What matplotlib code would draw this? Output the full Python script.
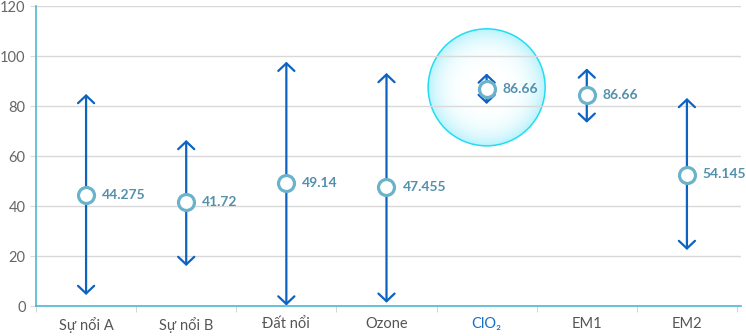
import numpy as np
import matplotlib
matplotlib.use("Agg")
import matplotlib.pyplot as plt
import matplotlib.patches as patches
import matplotlib.transforms as transforms
from matplotlib.colors import to_rgb

plt.rcParams['font.family'] = ['Lato', 'DejaVu Sans']

categories = ["Sự nổi A", "Sự nổi B", "Đất nổi", "Ozone", "ClO₂", "EM1", "EM2"]
point_values = [44.275, 41.72, 49.14, 47.455, 86.66, 84.4, 52.6]
point_labels = ["44.275", "41.72", "49.14", "47.455", "86.66", "86.66", "54.145"]
range_high = [84.8, 66.4, 97.7, 93.2, 93.0, 95.0, 83.2]
range_low = [4.4, 16.0, 0.2, 1.3, 80.8, 73.3, 22.4]
highlight_index = 4
y_ticks = [0, 20, 40, 60, 80, 100, 120]

ARROW_COLOR = "#0c63c2"
MARKER_COLOR = "#6bb3cb"
LABEL_COLOR = "#5390ab"
AXIS_COLOR = "#4db8d2"
GRID_COLOR = "#d9d9d9"
TEXT_COLOR = "#666666"

fig = plt.figure(figsize=(7.46, 3.36), dpi=100)
ax = fig.add_axes([36 / 746, 30 / 336, 705 / 746, 300 / 336])

n = len(categories)
x = np.arange(n)
ax.set_xlim(-0.5, n - 0.5 + 0.04)
ax.set_ylim(0, 120)

# grid + spines
ax.set_yticks(y_ticks)
ax.yaxis.grid(True, color=GRID_COLOR, linewidth=1)
ax.set_axisbelow(True)
for side in ['top', 'right']:
    ax.spines[side].set_visible(False)
ax.spines['left'].set_color(AXIS_COLOR)
ax.spines['bottom'].set_color(AXIS_COLOR)
ax.spines['left'].set_linewidth(1.2)
ax.spines['bottom'].set_linewidth(1.2)
ax.tick_params(axis='y', length=4.5, color=GRID_COLOR, labelcolor=TEXT_COLOR,
               labelsize=10.5, pad=3)

ax.set_xticks(x)
ax.set_xticklabels(categories)
ax.set_xticks(np.arange(n + 1) - 0.5, minor=True)
ax.tick_params(axis='x', which='major', length=0, labelcolor="#555555",
               labelsize=10.5, pad=8)
ax.tick_params(axis='x', which='minor', length=4, color="#cccccc")
ax.get_xticklabels()[highlight_index].set_color("#1a6fc8")

# highlight bubble around the selected point
trans = fig.dpi_scale_trans + transforms.ScaledTranslation(
    x[highlight_index], point_values[highlight_index] + 0.8, ax.transData)
R = 0.585
c_out = np.array(to_rgb("#bdf3fc"))
c_in = np.array([1.0, 1.0, 1.0])
steps = 40
for k in range(steps):
    t = 1 - k / steps
    w = t ** 4
    col = c_in * (1 - w) + c_out * w
    ax.add_patch(patches.Circle((0, 0), R * t, transform=trans, facecolor=col,
                                edgecolor='none', zorder=0.3))
ax.add_patch(patches.Circle((0, 0), R, transform=trans, facecolor='none',
                            edgecolor="#22dcf4", linewidth=1.1, zorder=0.35))

# range arrows
for xi, lo, hi in zip(x, range_low, range_high):
    ax.annotate("", xy=(xi, hi), xytext=(xi, lo),
                arrowprops=dict(arrowstyle="<->,head_length=0.55,head_width=0.58",
                                color=ARROW_COLOR, lw=1.6, shrinkA=0, shrinkB=0,
                                mutation_scale=10),
                zorder=3)

# points
ax.plot(x, point_values, linestyle='none', marker='o', markersize=11.5,
        markerfacecolor='white', markeredgecolor=MARKER_COLOR,
        markeredgewidth=2.3, zorder=4)

for xi, v, lab in zip(x, point_values, point_labels):
    ax.annotate(lab, xy=(xi, v), xytext=(11.5, 0), textcoords='offset points',
                ha='left', va='center', fontsize=10, fontweight='bold',
                color=LABEL_COLOR, zorder=5)

fig.savefig("out.png", dpi=100)
